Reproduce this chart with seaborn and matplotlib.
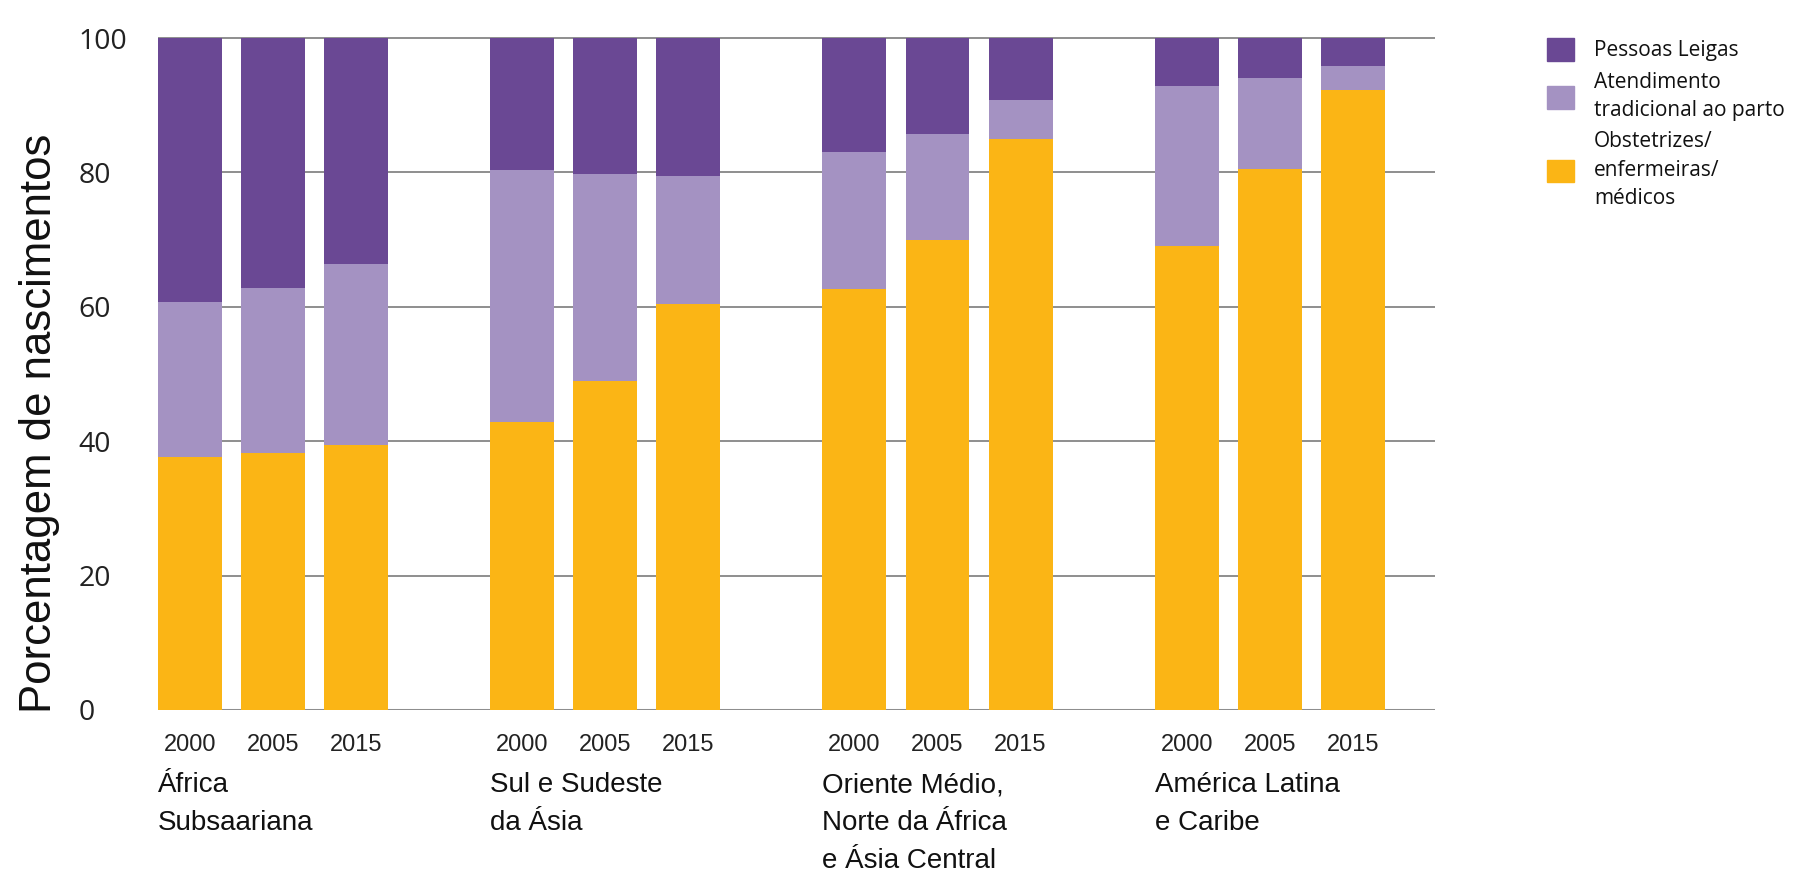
import matplotlib
matplotlib.use("Agg")
import matplotlib.pyplot as plt
import matplotlib.patches as mpatches
import matplotlib.transforms as mtransforms
import seaborn as sns
import pandas as pd

# ---- data ----
regions = ["África\nSubsaariana", "Sul e Sudeste\nda Ásia",
           "Oriente Médio,\nNorte da África\ne Ásia Central", "América Latina\ne Caribe"]
years = ["2000", "2005", "2015"]
# percentages per bar (region-major order)
skilled = [37.7, 38.2, 39.4, 42.8, 49.0, 60.4, 62.6, 70.0, 85.0, 69.1, 80.5, 92.2]
traditional = [23.0, 24.6, 27.0, 37.5, 30.8, 19.1, 20.5, 15.7, 5.8, 23.7, 13.6, 3.6]
lay = [39.3, 37.2, 33.6, 19.7, 20.2, 20.5, 16.9, 14.3, 9.2, 7.2, 5.9, 4.2]
series_names = ["Pessoas Leigas", "Atendimento\ntradicional ao parto",
                "Obstetrizes/\nenfermeiras/\nmédicos"]

c_lay = "#6A4894"
c_trad = "#A492C2"
c_skill = "#FBB515"

sns.set_theme(style="white")
narrow = ["Liberation Sans", "DejaVu Sans"]
plt.rcParams["font.family"] = ["Open Sans", "DejaVu Sans"]

# positions: 3 bars per group, one empty slot between groups
pos = []
for g in range(len(regions)):
    for k in range(len(years)):
        pos.append(g * 4 + k)

df = pd.DataFrame({
    "pos": pos,
    "skilled": skilled,
    "cum_trad": [s + t for s, t in zip(skilled, traditional)],
    "total": [s + t + l for s, t, l in zip(skilled, traditional, lay)],
})

fig = plt.figure(figsize=(18, 8.72), dpi=100)
ax = fig.add_axes([158 / 1800, 1 - 710 / 872, (1435 - 158) / 1800, 674 / 872])

bw = 0.77
sns.barplot(data=df, x="pos", y="total", native_scale=True, color=c_lay,
            width=bw, errorbar=None, linewidth=0, saturation=1, ax=ax)
sns.barplot(data=df, x="pos", y="cum_trad", native_scale=True, color=c_trad,
            width=bw, errorbar=None, linewidth=0, saturation=1, ax=ax)
sns.barplot(data=df, x="pos", y="skilled", native_scale=True, color=c_skill,
            width=bw, errorbar=None, linewidth=0, saturation=1, ax=ax)

ax.set_xlim(-0.385, 14.99)
ax.set_ylim(0, 100.3)
ax.set_yticks([0, 20, 40, 60, 80, 100])
ax.yaxis.grid(True, color="#8E8E8E", linewidth=1.4)
ax.xaxis.grid(False)
ax.set_axisbelow(True)
for s in ["top", "right", "left", "bottom"]:
    ax.spines[s].set_visible(False)
ax.axhline(0, color="#9A9A9A", linewidth=2.2, zorder=0)

ax.set_xticks(pos)
ax.set_xticklabels(years * len(regions), fontsize=17, family=narrow)
ax.tick_params(axis="x", length=0, pad=17)
ax.tick_params(axis="y", length=0, pad=57)
for lab in ax.get_yticklabels():
    lab.set_horizontalalignment("left")
    lab.set_fontsize(20.5)
    lab.set_color("#222222")
for lab in ax.get_xticklabels():
    lab.set_color("#222222")

ax.set_xlabel("")
ax.set_ylabel("Porcentagem de nascimentos", fontsize=31.5, family=narrow,
              color="#111111")
ax.yaxis.set_label_coords(-0.077, 0.425)

trans = mtransforms.blended_transform_factory(ax.transData, ax.transAxes)
for g, name in enumerate(regions):
    ax.text(g * 4 - bw / 2, -0.092, name, transform=trans, ha="left", va="top",
            fontsize=20, family=narrow, linespacing=1.6, color="#111111")

handles = [mpatches.Patch(color=c_lay), mpatches.Patch(color=c_trad),
           mpatches.Patch(color=c_skill)]
leg = fig.legend(handles, series_names, loc="upper left",
                 bbox_to_anchor=(1547 / 1800, 1 - 38 / 872), frameon=False,
                 fontsize=15, handlelength=1.3, handleheight=1.3,
                 handletextpad=0.95, borderpad=0, borderaxespad=0, labelspacing=0.5)
for t in leg.get_texts():
    t.set_linespacing(1.45)
    t.set_color("#111111")

fig.savefig("out.png", dpi=100)
